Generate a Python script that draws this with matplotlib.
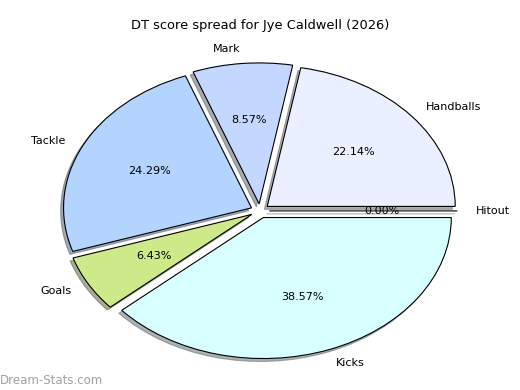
import matplotlib
matplotlib.use("Agg")
import matplotlib.pyplot as plt

# DT score breakdown
categories = ["Handballs", "Mark", "Tackle", "Goals", "Kicks", "Hitout"]
scores = [31, 12, 34, 9, 54, 0]
colors = ["#eaf0ff", "#c4d7ff", "#b2d4ff", "#cde98a", "#d8ffff", "#ffe0e0"]

fig = plt.figure(figsize=(5.2, 3.9), dpi=100)
ax = fig.add_axes([0, 0, 1, 1])

ax.pie(scores, labels=categories, colors=colors, autopct="%1.2f%%",
       explode=[0.05] * len(scores), startangle=0,
       shadow={"ox": -0.011, "oy": -0.015, "shade": 0.6},
       wedgeprops={"edgecolor": "black", "linewidth": 0.8},
       textprops={"fontsize": 8})
ax.set_aspect("auto")
ax.set_xlim(-1.383, 1.383)
ax.set_ylim(-1.270, 1.496)
ax.axis("off")

fig.text(0.5, 1 - 25 / 390, "DT score spread for Jye Caldwell (2026)",
         ha="center", va="center", fontsize=9.4)
fig.text(0.0, 1 - 380 / 390, "Dream-Stats.com", ha="left", va="center",
         fontsize=8.5, color="#a0a0a0")

fig.savefig("out.png", dpi=100)
